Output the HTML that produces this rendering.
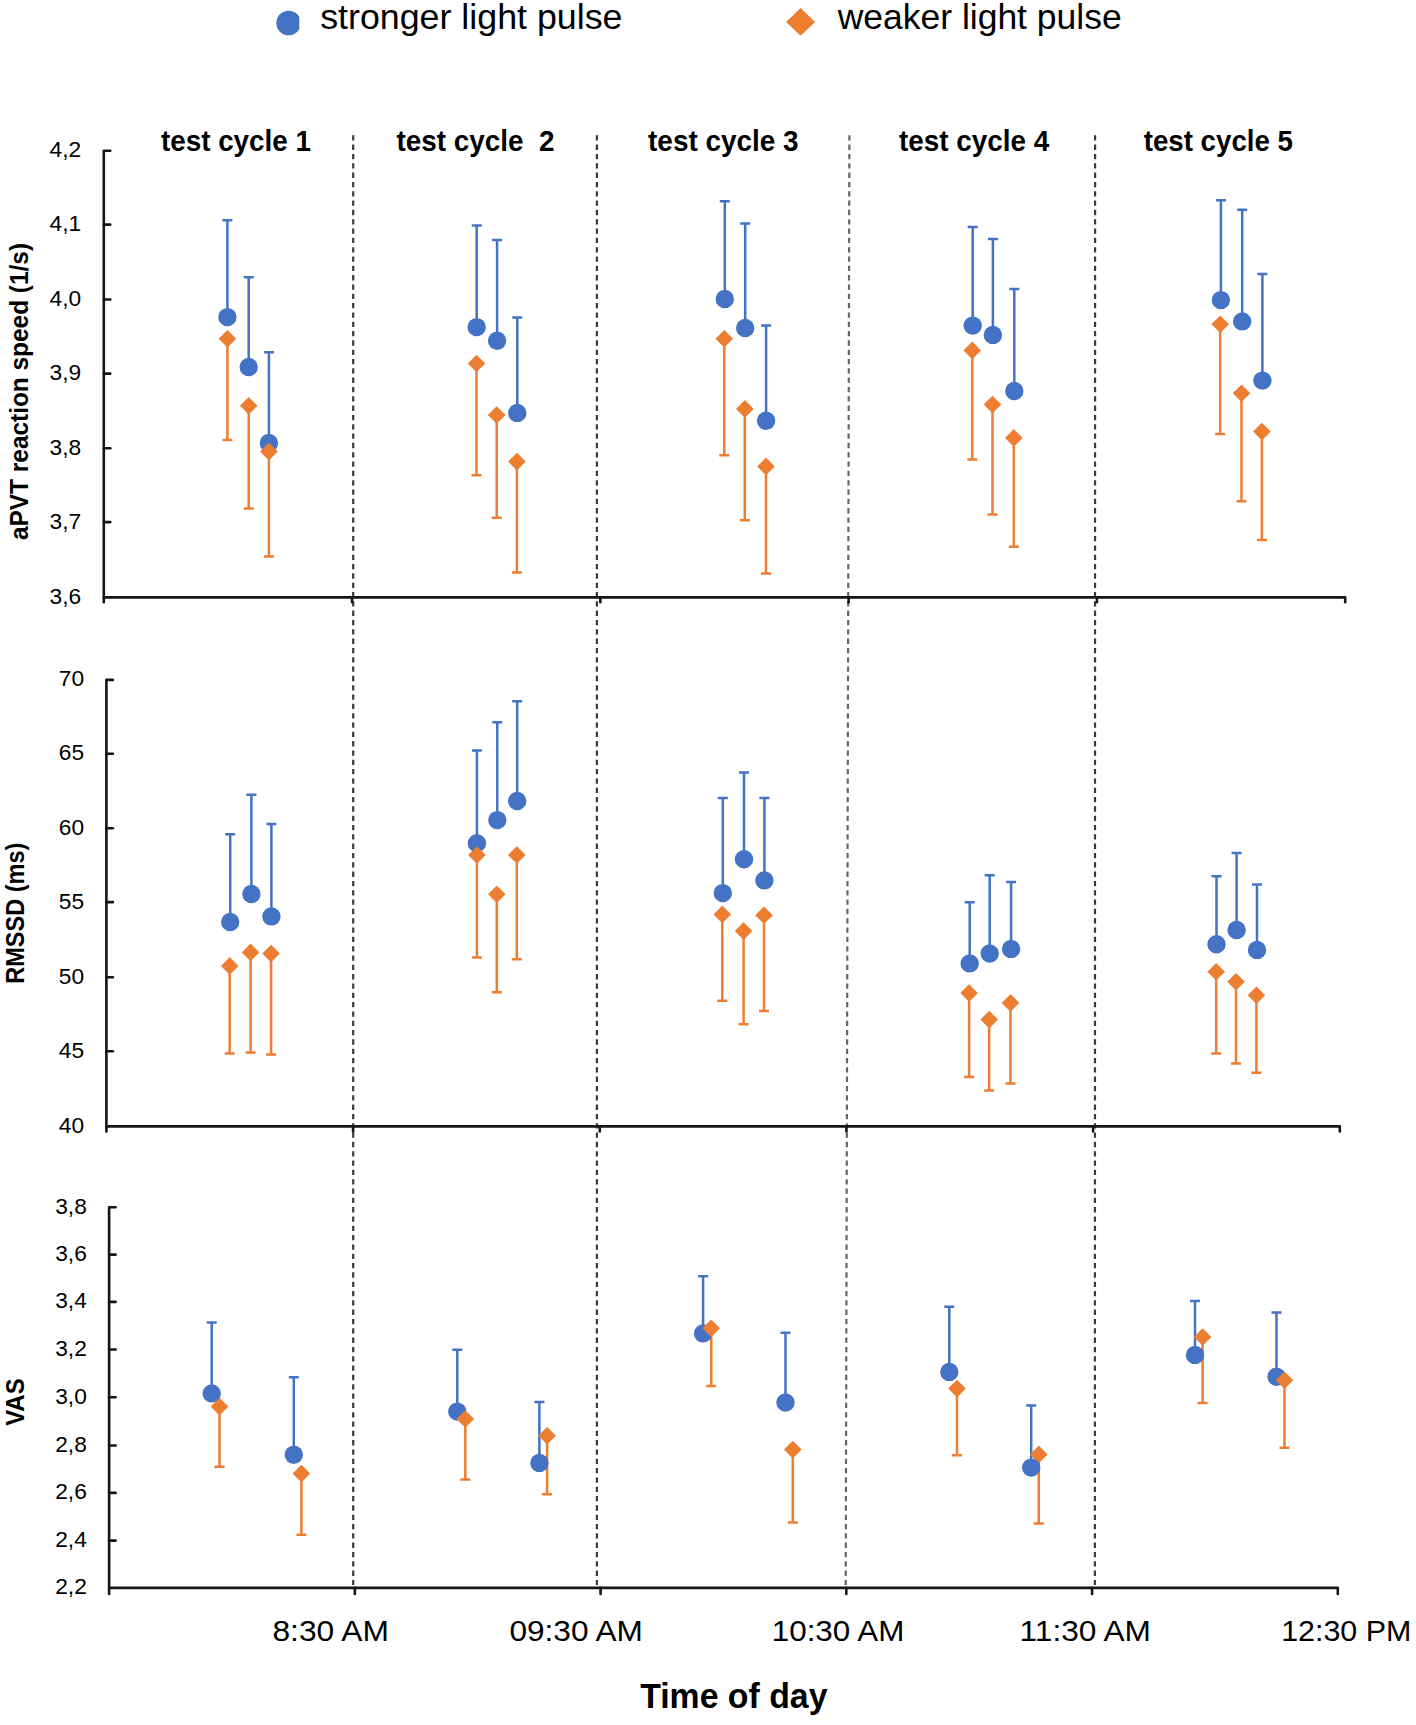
<!DOCTYPE html>
<html><head><meta charset="utf-8"><title>chart</title>
<style>
html,body{margin:0;padding:0;background:#fff;}
body{width:1416px;height:1725px;overflow:hidden;}
svg{display:block;}
text{font-family:"Liberation Sans", sans-serif;white-space:pre;}
</style></head><body>
<svg width="1416" height="1725" viewBox="0 0 1416 1725">
<rect width="1416" height="1725" fill="#fff"/>
<line x1="353.2" y1="135.3" x2="353.2" y2="1585" stroke="#3a3a3a" stroke-width="2.2" stroke-dasharray="5.3 4.02"/>
<line x1="596.9" y1="135.3" x2="596.9" y2="1585" stroke="#3a3a3a" stroke-width="2.2" stroke-dasharray="5.3 4.02"/>
<line x1="849.4" y1="135.3" x2="845.7" y2="1585" stroke="#666666" stroke-width="2.2" stroke-dasharray="5.3 4.02"/>
<line x1="1095.1" y1="135.3" x2="1094.9" y2="1585" stroke="#3a3a3a" stroke-width="2.2" stroke-dasharray="5.3 4.02"/>
<path d="M110.3,150.8 H103.8 V602.2" fill="none" stroke="#161616" stroke-width="2.6" stroke-linejoin="round" stroke-linecap="round"/>
<line x1="103.8" y1="224.6" x2="110.3" y2="224.6" stroke="#161616" stroke-width="2.6" stroke-linecap="round"/>
<line x1="103.8" y1="299.5" x2="110.3" y2="299.5" stroke="#161616" stroke-width="2.6" stroke-linecap="round"/>
<line x1="103.8" y1="373.6" x2="110.3" y2="373.6" stroke="#161616" stroke-width="2.6" stroke-linecap="round"/>
<line x1="103.8" y1="448.2" x2="110.3" y2="448.2" stroke="#161616" stroke-width="2.6" stroke-linecap="round"/>
<line x1="103.8" y1="522.1" x2="110.3" y2="522.1" stroke="#161616" stroke-width="2.6" stroke-linecap="round"/>
<path d="M103.8,597.4 H1345.2 V602.2" fill="none" stroke="#161616" stroke-width="2.6" stroke-linejoin="round" stroke-linecap="round"/>
<line x1="352.08" y1="597.4" x2="352.08" y2="602.2" stroke="#161616" stroke-width="2.6" stroke-linecap="round"/>
<line x1="600.36" y1="597.4" x2="600.36" y2="602.2" stroke="#161616" stroke-width="2.6" stroke-linecap="round"/>
<line x1="848.64" y1="597.4" x2="848.64" y2="602.2" stroke="#161616" stroke-width="2.6" stroke-linecap="round"/>
<line x1="1096.92" y1="597.4" x2="1096.92" y2="602.2" stroke="#161616" stroke-width="2.6" stroke-linecap="round"/>
<text transform="translate(49.52,157.22) scale(1.0200,1)" x="0" y="0" font-size="22.3">4,2</text>
<text transform="translate(49.52,231.02) scale(1.0200,1)" x="0" y="0" font-size="22.3">4,1</text>
<text transform="translate(49.52,305.92) scale(1.0200,1)" x="0" y="0" font-size="22.3">4,0</text>
<text transform="translate(49.52,380.02) scale(1.0200,1)" x="0" y="0" font-size="22.3">3,9</text>
<text transform="translate(49.52,454.62) scale(1.0200,1)" x="0" y="0" font-size="22.3">3,8</text>
<text transform="translate(49.52,528.52) scale(1.0200,1)" x="0" y="0" font-size="22.3">3,7</text>
<text transform="translate(49.52,603.82) scale(1.0200,1)" x="0" y="0" font-size="22.3">3,6</text>
<path d="M112.9,679.9 H106.4 V1131.4" fill="none" stroke="#161616" stroke-width="2.6" stroke-linejoin="round" stroke-linecap="round"/>
<line x1="106.4" y1="753.8" x2="112.9" y2="753.8" stroke="#161616" stroke-width="2.6" stroke-linecap="round"/>
<line x1="106.4" y1="828.2" x2="112.9" y2="828.2" stroke="#161616" stroke-width="2.6" stroke-linecap="round"/>
<line x1="106.4" y1="902.1" x2="112.9" y2="902.1" stroke="#161616" stroke-width="2.6" stroke-linecap="round"/>
<line x1="106.4" y1="977.3" x2="112.9" y2="977.3" stroke="#161616" stroke-width="2.6" stroke-linecap="round"/>
<line x1="106.4" y1="1051.3" x2="112.9" y2="1051.3" stroke="#161616" stroke-width="2.6" stroke-linecap="round"/>
<path d="M106.4,1126.4 H1339.8 V1131.4" fill="none" stroke="#161616" stroke-width="2.6" stroke-linejoin="round" stroke-linecap="round"/>
<line x1="353.08" y1="1126.4" x2="353.08" y2="1131.4" stroke="#161616" stroke-width="2.6" stroke-linecap="round"/>
<line x1="599.76" y1="1126.4" x2="599.76" y2="1131.4" stroke="#161616" stroke-width="2.6" stroke-linecap="round"/>
<line x1="846.44" y1="1126.4" x2="846.44" y2="1131.4" stroke="#161616" stroke-width="2.6" stroke-linecap="round"/>
<line x1="1093.12" y1="1126.4" x2="1093.12" y2="1131.4" stroke="#161616" stroke-width="2.6" stroke-linecap="round"/>
<text transform="translate(58.79,686.32) scale(1.0200,1)" x="0" y="0" font-size="22.3">70</text>
<text transform="translate(58.79,760.22) scale(1.0200,1)" x="0" y="0" font-size="22.3">65</text>
<text transform="translate(58.79,834.62) scale(1.0200,1)" x="0" y="0" font-size="22.3">60</text>
<text transform="translate(58.79,908.52) scale(1.0200,1)" x="0" y="0" font-size="22.3">55</text>
<text transform="translate(58.79,983.72) scale(1.0200,1)" x="0" y="0" font-size="22.3">50</text>
<text transform="translate(58.79,1057.72) scale(1.0200,1)" x="0" y="0" font-size="22.3">45</text>
<text transform="translate(58.79,1132.82) scale(1.0200,1)" x="0" y="0" font-size="22.3">40</text>
<path d="M115.6,1207.3 H109.1 V1593.9" fill="none" stroke="#161616" stroke-width="2.6" stroke-linejoin="round" stroke-linecap="round"/>
<line x1="109.1" y1="1254.6" x2="115.6" y2="1254.6" stroke="#161616" stroke-width="2.6" stroke-linecap="round"/>
<line x1="109.1" y1="1301.9" x2="115.6" y2="1301.9" stroke="#161616" stroke-width="2.6" stroke-linecap="round"/>
<line x1="109.1" y1="1349.5" x2="115.6" y2="1349.5" stroke="#161616" stroke-width="2.6" stroke-linecap="round"/>
<line x1="109.1" y1="1397.2" x2="115.6" y2="1397.2" stroke="#161616" stroke-width="2.6" stroke-linecap="round"/>
<line x1="109.1" y1="1445.5" x2="115.6" y2="1445.5" stroke="#161616" stroke-width="2.6" stroke-linecap="round"/>
<line x1="109.1" y1="1492.9" x2="115.6" y2="1492.9" stroke="#161616" stroke-width="2.6" stroke-linecap="round"/>
<line x1="109.1" y1="1540.6" x2="115.6" y2="1540.6" stroke="#161616" stroke-width="2.6" stroke-linecap="round"/>
<path d="M109.1,1587.9 H1337.8 V1593.9" fill="none" stroke="#161616" stroke-width="2.6" stroke-linejoin="round" stroke-linecap="round"/>
<line x1="354.84" y1="1587.9" x2="354.84" y2="1593.9" stroke="#161616" stroke-width="2.6" stroke-linecap="round"/>
<line x1="600.58" y1="1587.9" x2="600.58" y2="1593.9" stroke="#161616" stroke-width="2.6" stroke-linecap="round"/>
<line x1="846.32" y1="1587.9" x2="846.32" y2="1593.9" stroke="#161616" stroke-width="2.6" stroke-linecap="round"/>
<line x1="1092.06" y1="1587.9" x2="1092.06" y2="1593.9" stroke="#161616" stroke-width="2.6" stroke-linecap="round"/>
<text transform="translate(55.17,1213.72) scale(1.0200,1)" x="0" y="0" font-size="22.3">3,8</text>
<text transform="translate(55.17,1261.02) scale(1.0200,1)" x="0" y="0" font-size="22.3">3,6</text>
<text transform="translate(55.17,1308.32) scale(1.0200,1)" x="0" y="0" font-size="22.3">3,4</text>
<text transform="translate(55.17,1355.92) scale(1.0200,1)" x="0" y="0" font-size="22.3">3,2</text>
<text transform="translate(55.17,1403.62) scale(1.0200,1)" x="0" y="0" font-size="22.3">3,0</text>
<text transform="translate(55.17,1451.92) scale(1.0200,1)" x="0" y="0" font-size="22.3">2,8</text>
<text transform="translate(55.17,1499.32) scale(1.0200,1)" x="0" y="0" font-size="22.3">2,6</text>
<text transform="translate(55.17,1547.02) scale(1.0200,1)" x="0" y="0" font-size="22.3">2,4</text>
<text transform="translate(55.17,1594.32) scale(1.0200,1)" x="0" y="0" font-size="22.3">2,2</text>
<path d="M227.4,317.1 V220.2 M222.4,220.2 H232.4" stroke="#4472C4" stroke-width="2.5" fill="none"/>
<path d="M227.4,338.7 V440 M222.4,440 H232.4" stroke="#ED7D31" stroke-width="2.5" fill="none"/>
<path d="M248.7,367 V277.2 M243.7,277.2 H253.7" stroke="#4472C4" stroke-width="2.5" fill="none"/>
<path d="M248.7,405.7 V508.4 M243.7,508.4 H253.7" stroke="#ED7D31" stroke-width="2.5" fill="none"/>
<path d="M268.9,443 V352.3 M263.9,352.3 H273.9" stroke="#4472C4" stroke-width="2.5" fill="none"/>
<path d="M268.9,451.6 V556.6 M263.9,556.6 H273.9" stroke="#ED7D31" stroke-width="2.5" fill="none"/>
<path d="M476.7,327.1 V225.5 M471.7,225.5 H481.7" stroke="#4472C4" stroke-width="2.5" fill="none"/>
<path d="M476.5,363.5 V475.2 M471.5,475.2 H481.5" stroke="#ED7D31" stroke-width="2.5" fill="none"/>
<path d="M497.1,340.8 V240.1 M492.1,240.1 H502.1" stroke="#4472C4" stroke-width="2.5" fill="none"/>
<path d="M496.7,415 V517.7 M491.7,517.7 H501.7" stroke="#ED7D31" stroke-width="2.5" fill="none"/>
<path d="M517.3,412.9 V317.6 M512.3,317.6 H522.3" stroke="#4472C4" stroke-width="2.5" fill="none"/>
<path d="M516.9,461.6 V572.6 M511.9,572.6 H521.9" stroke="#ED7D31" stroke-width="2.5" fill="none"/>
<path d="M724.8,299 V201.3 M719.8,201.3 H729.8" stroke="#4472C4" stroke-width="2.5" fill="none"/>
<path d="M724.3,338.8 V455.2 M719.3,455.2 H729.3" stroke="#ED7D31" stroke-width="2.5" fill="none"/>
<path d="M745.2,328 V223.4 M740.2,223.4 H750.2" stroke="#4472C4" stroke-width="2.5" fill="none"/>
<path d="M744.8,408.9 V520.2 M739.8,520.2 H749.8" stroke="#ED7D31" stroke-width="2.5" fill="none"/>
<path d="M766.1,420.7 V325.6 M761.1,325.6 H771.1" stroke="#4472C4" stroke-width="2.5" fill="none"/>
<path d="M766,466.4 V573.5 M761,573.5 H771" stroke="#ED7D31" stroke-width="2.5" fill="none"/>
<path d="M972.7,325.6 V227.1 M967.7,227.1 H977.7" stroke="#4472C4" stroke-width="2.5" fill="none"/>
<path d="M972.3,350.4 V459.4 M967.3,459.4 H977.3" stroke="#ED7D31" stroke-width="2.5" fill="none"/>
<path d="M992.9,334.9 V239.1 M987.9,239.1 H997.9" stroke="#4472C4" stroke-width="2.5" fill="none"/>
<path d="M992.5,404.5 V514.4 M987.5,514.4 H997.5" stroke="#ED7D31" stroke-width="2.5" fill="none"/>
<path d="M1014.3,391 V289 M1009.3,289 H1019.3" stroke="#4472C4" stroke-width="2.5" fill="none"/>
<path d="M1013.8,437.9 V546.8 M1008.8,546.8 H1018.8" stroke="#ED7D31" stroke-width="2.5" fill="none"/>
<path d="M1220.9,300.1 V200.2 M1215.9,200.2 H1225.9" stroke="#4472C4" stroke-width="2.5" fill="none"/>
<path d="M1220.2,324.2 V433.9 M1215.2,433.9 H1225.2" stroke="#ED7D31" stroke-width="2.5" fill="none"/>
<path d="M1242.2,321.4 V209.7 M1237.2,209.7 H1247.2" stroke="#4472C4" stroke-width="2.5" fill="none"/>
<path d="M1241.5,393.3 V501.2 M1236.5,501.2 H1246.5" stroke="#ED7D31" stroke-width="2.5" fill="none"/>
<path d="M1262.4,380.6 V273.9 M1257.4,273.9 H1267.4" stroke="#4472C4" stroke-width="2.5" fill="none"/>
<path d="M1261.9,431.6 V540.1 M1256.9,540.1 H1266.9" stroke="#ED7D31" stroke-width="2.5" fill="none"/>
<circle cx="227.4" cy="317.1" r="9.2" fill="#4472C4"/>
<circle cx="248.7" cy="367" r="9.2" fill="#4472C4"/>
<circle cx="268.9" cy="443" r="9.2" fill="#4472C4"/>
<circle cx="476.7" cy="327.1" r="9.2" fill="#4472C4"/>
<circle cx="497.1" cy="340.8" r="9.2" fill="#4472C4"/>
<circle cx="517.3" cy="412.9" r="9.2" fill="#4472C4"/>
<circle cx="724.8" cy="299" r="9.2" fill="#4472C4"/>
<circle cx="745.2" cy="328" r="9.2" fill="#4472C4"/>
<circle cx="766.1" cy="420.7" r="9.2" fill="#4472C4"/>
<circle cx="972.7" cy="325.6" r="9.2" fill="#4472C4"/>
<circle cx="992.9" cy="334.9" r="9.2" fill="#4472C4"/>
<circle cx="1014.3" cy="391" r="9.2" fill="#4472C4"/>
<circle cx="1220.9" cy="300.1" r="9.2" fill="#4472C4"/>
<circle cx="1242.2" cy="321.4" r="9.2" fill="#4472C4"/>
<circle cx="1262.4" cy="380.6" r="9.2" fill="#4472C4"/>
<path d="M227.4,329.9 L236.2,338.7 L227.4,347.5 L218.6,338.7 Z" fill="#ED7D31"/>
<path d="M248.7,396.9 L257.5,405.7 L248.7,414.5 L239.9,405.7 Z" fill="#ED7D31"/>
<path d="M268.9,442.8 L277.7,451.6 L268.9,460.4 L260.1,451.6 Z" fill="#ED7D31"/>
<path d="M476.5,354.7 L485.3,363.5 L476.5,372.3 L467.7,363.5 Z" fill="#ED7D31"/>
<path d="M496.7,406.2 L505.5,415 L496.7,423.8 L487.9,415 Z" fill="#ED7D31"/>
<path d="M516.9,452.8 L525.7,461.6 L516.9,470.4 L508.1,461.6 Z" fill="#ED7D31"/>
<path d="M724.3,330 L733.1,338.8 L724.3,347.6 L715.5,338.8 Z" fill="#ED7D31"/>
<path d="M744.8,400.1 L753.6,408.9 L744.8,417.7 L736,408.9 Z" fill="#ED7D31"/>
<path d="M766,457.6 L774.8,466.4 L766,475.2 L757.2,466.4 Z" fill="#ED7D31"/>
<path d="M972.3,341.6 L981.1,350.4 L972.3,359.2 L963.5,350.4 Z" fill="#ED7D31"/>
<path d="M992.5,395.7 L1001.3,404.5 L992.5,413.3 L983.7,404.5 Z" fill="#ED7D31"/>
<path d="M1013.8,429.1 L1022.6,437.9 L1013.8,446.7 L1005,437.9 Z" fill="#ED7D31"/>
<path d="M1220.2,315.4 L1229,324.2 L1220.2,333 L1211.4,324.2 Z" fill="#ED7D31"/>
<path d="M1241.5,384.5 L1250.3,393.3 L1241.5,402.1 L1232.7,393.3 Z" fill="#ED7D31"/>
<path d="M1261.9,422.8 L1270.7,431.6 L1261.9,440.4 L1253.1,431.6 Z" fill="#ED7D31"/>
<path d="M230.2,922 V834.2 M225.2,834.2 H235.2" stroke="#4472C4" stroke-width="2.5" fill="none"/>
<path d="M229.7,965.9 V1053.5 M224.7,1053.5 H234.7" stroke="#ED7D31" stroke-width="2.5" fill="none"/>
<path d="M251.4,894 V794.7 M246.4,794.7 H256.4" stroke="#4472C4" stroke-width="2.5" fill="none"/>
<path d="M250.6,952.4 V1052.6 M245.6,1052.6 H255.6" stroke="#ED7D31" stroke-width="2.5" fill="none"/>
<path d="M271.4,916.4 V824 M266.4,824 H276.4" stroke="#4472C4" stroke-width="2.5" fill="none"/>
<path d="M271.1,953.5 V1054.4 M266.1,1054.4 H276.1" stroke="#ED7D31" stroke-width="2.5" fill="none"/>
<path d="M476.9,843.3 V750.5 M471.9,750.5 H481.9" stroke="#4472C4" stroke-width="2.5" fill="none"/>
<path d="M476.9,855 V957.4 M471.9,957.4 H481.9" stroke="#ED7D31" stroke-width="2.5" fill="none"/>
<path d="M497.3,820.1 V722.3 M492.3,722.3 H502.3" stroke="#4472C4" stroke-width="2.5" fill="none"/>
<path d="M496.8,894.3 V992.2 M491.8,992.2 H501.8" stroke="#ED7D31" stroke-width="2.5" fill="none"/>
<path d="M517.2,801 V701.3 M512.2,701.3 H522.2" stroke="#4472C4" stroke-width="2.5" fill="none"/>
<path d="M516.8,855 V959.2 M511.8,959.2 H521.8" stroke="#ED7D31" stroke-width="2.5" fill="none"/>
<path d="M722.8,893.1 V798.1 M717.8,798.1 H727.8" stroke="#4472C4" stroke-width="2.5" fill="none"/>
<path d="M722.3,914.4 V1000.7 M717.3,1000.7 H727.3" stroke="#ED7D31" stroke-width="2.5" fill="none"/>
<path d="M744,859.3 V772.5 M739,772.5 H749" stroke="#4472C4" stroke-width="2.5" fill="none"/>
<path d="M743.6,931.1 V1024.2 M738.6,1024.2 H748.6" stroke="#ED7D31" stroke-width="2.5" fill="none"/>
<path d="M764.4,880.4 V798.1 M759.4,798.1 H769.4" stroke="#4472C4" stroke-width="2.5" fill="none"/>
<path d="M764,915.3 V1010.9 M759,1010.9 H769" stroke="#ED7D31" stroke-width="2.5" fill="none"/>
<path d="M969.7,963.4 V902.2 M964.7,902.2 H974.7" stroke="#4472C4" stroke-width="2.5" fill="none"/>
<path d="M969.1,993.1 V1077.1 M964.1,1077.1 H974.1" stroke="#ED7D31" stroke-width="2.5" fill="none"/>
<path d="M989.7,953.5 V875.3 M984.7,875.3 H994.7" stroke="#4472C4" stroke-width="2.5" fill="none"/>
<path d="M989.2,1019.6 V1090.5 M984.2,1090.5 H994.2" stroke="#ED7D31" stroke-width="2.5" fill="none"/>
<path d="M1011.1,948.9 V882.1 M1006.1,882.1 H1016.1" stroke="#4472C4" stroke-width="2.5" fill="none"/>
<path d="M1010.5,1002.9 V1083.4 M1005.5,1083.4 H1015.5" stroke="#ED7D31" stroke-width="2.5" fill="none"/>
<path d="M1216.5,944.3 V876.2 M1211.5,876.2 H1221.5" stroke="#4472C4" stroke-width="2.5" fill="none"/>
<path d="M1216.2,971.8 V1053.4 M1211.2,1053.4 H1221.2" stroke="#ED7D31" stroke-width="2.5" fill="none"/>
<path d="M1236.6,930 V853 M1231.6,853 H1241.6" stroke="#4472C4" stroke-width="2.5" fill="none"/>
<path d="M1236,981.8 V1063.4 M1231,1063.4 H1241" stroke="#ED7D31" stroke-width="2.5" fill="none"/>
<path d="M1257,949.9 V884.6 M1252,884.6 H1262" stroke="#4472C4" stroke-width="2.5" fill="none"/>
<path d="M1256.4,995.3 V1072.7 M1251.4,1072.7 H1261.4" stroke="#ED7D31" stroke-width="2.5" fill="none"/>
<circle cx="230.2" cy="922" r="9.2" fill="#4472C4"/>
<circle cx="251.4" cy="894" r="9.2" fill="#4472C4"/>
<circle cx="271.4" cy="916.4" r="9.2" fill="#4472C4"/>
<circle cx="476.9" cy="843.3" r="9.2" fill="#4472C4"/>
<circle cx="497.3" cy="820.1" r="9.2" fill="#4472C4"/>
<circle cx="517.2" cy="801" r="9.2" fill="#4472C4"/>
<circle cx="722.8" cy="893.1" r="9.2" fill="#4472C4"/>
<circle cx="744" cy="859.3" r="9.2" fill="#4472C4"/>
<circle cx="764.4" cy="880.4" r="9.2" fill="#4472C4"/>
<circle cx="969.7" cy="963.4" r="9.2" fill="#4472C4"/>
<circle cx="989.7" cy="953.5" r="9.2" fill="#4472C4"/>
<circle cx="1011.1" cy="948.9" r="9.2" fill="#4472C4"/>
<circle cx="1216.5" cy="944.3" r="9.2" fill="#4472C4"/>
<circle cx="1236.6" cy="930" r="9.2" fill="#4472C4"/>
<circle cx="1257" cy="949.9" r="9.2" fill="#4472C4"/>
<path d="M229.7,957.1 L238.5,965.9 L229.7,974.7 L220.9,965.9 Z" fill="#ED7D31"/>
<path d="M250.6,943.6 L259.4,952.4 L250.6,961.2 L241.8,952.4 Z" fill="#ED7D31"/>
<path d="M271.1,944.7 L279.9,953.5 L271.1,962.3 L262.3,953.5 Z" fill="#ED7D31"/>
<path d="M476.9,846.2 L485.7,855 L476.9,863.8 L468.1,855 Z" fill="#ED7D31"/>
<path d="M496.8,885.5 L505.6,894.3 L496.8,903.1 L488,894.3 Z" fill="#ED7D31"/>
<path d="M516.8,846.2 L525.6,855 L516.8,863.8 L508,855 Z" fill="#ED7D31"/>
<path d="M722.3,905.6 L731.1,914.4 L722.3,923.2 L713.5,914.4 Z" fill="#ED7D31"/>
<path d="M743.6,922.3 L752.4,931.1 L743.6,939.9 L734.8,931.1 Z" fill="#ED7D31"/>
<path d="M764,906.5 L772.8,915.3 L764,924.1 L755.2,915.3 Z" fill="#ED7D31"/>
<path d="M969.1,984.3 L977.9,993.1 L969.1,1001.9 L960.3,993.1 Z" fill="#ED7D31"/>
<path d="M989.2,1010.8 L998,1019.6 L989.2,1028.4 L980.4,1019.6 Z" fill="#ED7D31"/>
<path d="M1010.5,994.1 L1019.3,1002.9 L1010.5,1011.7 L1001.7,1002.9 Z" fill="#ED7D31"/>
<path d="M1216.2,963 L1225,971.8 L1216.2,980.6 L1207.4,971.8 Z" fill="#ED7D31"/>
<path d="M1236,973 L1244.8,981.8 L1236,990.6 L1227.2,981.8 Z" fill="#ED7D31"/>
<path d="M1256.4,986.5 L1265.2,995.3 L1256.4,1004.1 L1247.6,995.3 Z" fill="#ED7D31"/>
<path d="M211.7,1393.4 V1322.6 M206.7,1322.6 H216.7" stroke="#4472C4" stroke-width="2.5" fill="none"/>
<path d="M219.5,1406.6 V1466.8 M214.5,1466.8 H224.5" stroke="#ED7D31" stroke-width="2.5" fill="none"/>
<path d="M293.8,1454.8 V1377.2 M288.8,1377.2 H298.8" stroke="#4472C4" stroke-width="2.5" fill="none"/>
<path d="M301.4,1473.6 V1534.7 M296.4,1534.7 H306.4" stroke="#ED7D31" stroke-width="2.5" fill="none"/>
<path d="M457.3,1411.6 V1349.8 M452.3,1349.8 H462.3" stroke="#4472C4" stroke-width="2.5" fill="none"/>
<path d="M465.3,1419 V1479.4 M460.3,1479.4 H470.3" stroke="#ED7D31" stroke-width="2.5" fill="none"/>
<path d="M539.4,1462.9 V1402 M534.4,1402 H544.4" stroke="#4472C4" stroke-width="2.5" fill="none"/>
<path d="M547.1,1435.7 V1494.2 M542.1,1494.2 H552.1" stroke="#ED7D31" stroke-width="2.5" fill="none"/>
<path d="M703.1,1333.4 V1276.2 M698.1,1276.2 H708.1" stroke="#4472C4" stroke-width="2.5" fill="none"/>
<path d="M711.2,1328.2 V1386.1 M706.2,1386.1 H716.2" stroke="#ED7D31" stroke-width="2.5" fill="none"/>
<path d="M785.5,1402.5 V1332.7 M780.5,1332.7 H790.5" stroke="#4472C4" stroke-width="2.5" fill="none"/>
<path d="M792.8,1449.6 V1522.5 M787.8,1522.5 H797.8" stroke="#ED7D31" stroke-width="2.5" fill="none"/>
<path d="M949.3,1371.9 V1306.7 M944.3,1306.7 H954.3" stroke="#4472C4" stroke-width="2.5" fill="none"/>
<path d="M957,1388.6 V1455.2 M952,1455.2 H962" stroke="#ED7D31" stroke-width="2.5" fill="none"/>
<path d="M1031.2,1467.6 V1405.5 M1026.2,1405.5 H1036.2" stroke="#4472C4" stroke-width="2.5" fill="none"/>
<path d="M1038.8,1454.4 V1523.6 M1033.8,1523.6 H1043.8" stroke="#ED7D31" stroke-width="2.5" fill="none"/>
<path d="M1195,1354.9 V1300.9 M1190,1300.9 H1200" stroke="#4472C4" stroke-width="2.5" fill="none"/>
<path d="M1202.6,1337 V1403 M1197.6,1403 H1207.6" stroke="#ED7D31" stroke-width="2.5" fill="none"/>
<path d="M1276.5,1376.7 V1312.5 M1271.5,1312.5 H1281.5" stroke="#4472C4" stroke-width="2.5" fill="none"/>
<path d="M1284.5,1380.2 V1447.7 M1279.5,1447.7 H1289.5" stroke="#ED7D31" stroke-width="2.5" fill="none"/>
<circle cx="211.7" cy="1393.4" r="9.2" fill="#4472C4"/>
<circle cx="293.8" cy="1454.8" r="9.2" fill="#4472C4"/>
<circle cx="457.3" cy="1411.6" r="9.2" fill="#4472C4"/>
<circle cx="539.4" cy="1462.9" r="9.2" fill="#4472C4"/>
<circle cx="703.1" cy="1333.4" r="9.2" fill="#4472C4"/>
<circle cx="785.5" cy="1402.5" r="9.2" fill="#4472C4"/>
<circle cx="949.3" cy="1371.9" r="9.2" fill="#4472C4"/>
<circle cx="1195" cy="1354.9" r="9.2" fill="#4472C4"/>
<circle cx="1276.5" cy="1376.7" r="9.2" fill="#4472C4"/>
<path d="M219.5,1397.8 L228.3,1406.6 L219.5,1415.4 L210.7,1406.6 Z" fill="#ED7D31"/>
<path d="M301.4,1464.8 L310.2,1473.6 L301.4,1482.4 L292.6,1473.6 Z" fill="#ED7D31"/>
<path d="M465.3,1410.2 L474.1,1419 L465.3,1427.8 L456.5,1419 Z" fill="#ED7D31"/>
<path d="M547.1,1426.9 L555.9,1435.7 L547.1,1444.5 L538.3,1435.7 Z" fill="#ED7D31"/>
<path d="M711.2,1319.4 L720,1328.2 L711.2,1337 L702.4,1328.2 Z" fill="#ED7D31"/>
<path d="M792.8,1440.8 L801.6,1449.6 L792.8,1458.4 L784,1449.6 Z" fill="#ED7D31"/>
<path d="M957,1379.8 L965.8,1388.6 L957,1397.4 L948.2,1388.6 Z" fill="#ED7D31"/>
<path d="M1038.8,1445.6 L1047.6,1454.4 L1038.8,1463.2 L1030,1454.4 Z" fill="#ED7D31"/>
<path d="M1202.6,1328.2 L1211.4,1337 L1202.6,1345.8 L1193.8,1337 Z" fill="#ED7D31"/>
<path d="M1284.5,1371.4 L1293.3,1380.2 L1284.5,1389 L1275.7,1380.2 Z" fill="#ED7D31"/>
<circle cx="1031.2" cy="1467.6" r="9.2" fill="#4472C4"/>
<clipPath id="lc"><rect x="270" y="0" width="29.3" height="50"/></clipPath><circle cx="288.6" cy="23" r="12.3" fill="#4472C4" clip-path="url(#lc)"/>
<path d="M800.6,8 L815.1,21.9 L800.6,35.8 L786.1,21.9 Z" fill="#ED7D31"/>
<text transform="translate(321.2,29) scale(1.0081,1)" x="-0.99" y="0" font-size="35.5" font-weight="normal" fill="#000" >stronger light pulse</text>
<text transform="translate(837.6,29) scale(0.9999,1)" x="0.05" y="0" font-size="35.5" font-weight="normal" fill="#000" >weaker light pulse</text>
<text transform="translate(161.3,150.6) scale(0.9273,1)" x="-0.37" y="0" font-size="30" font-weight="bold" fill="#000" xml:space="preserve">test cycle 1</text>
<text transform="translate(396.8,150.6) scale(0.9291,1)" x="-0.37" y="0" font-size="30" font-weight="bold" fill="#000" xml:space="preserve">test cycle  2</text>
<text transform="translate(648.4,150.6) scale(0.9306,1)" x="-0.37" y="0" font-size="30" font-weight="bold" fill="#000" xml:space="preserve">test cycle 3</text>
<text transform="translate(899.3,150.6) scale(0.9290,1)" x="-0.37" y="0" font-size="30" font-weight="bold" fill="#000" xml:space="preserve">test cycle 4</text>
<text transform="translate(1144,150.6) scale(0.9235,1)" x="-0.37" y="0" font-size="30" font-weight="bold" fill="#000" xml:space="preserve">test cycle 5</text>
<text transform="translate(273.8,1641.3) scale(1.0762,1)" x="-1.28" y="0" font-size="29.5" font-weight="normal" fill="#000" >8:30 AM</text>
<text transform="translate(510.7,1641.3) scale(1.0713,1)" x="-1.15" y="0" font-size="29.5" font-weight="normal" fill="#000" >09:30 AM</text>
<text transform="translate(774.1,1641.3) scale(1.0644,1)" x="-2.25" y="0" font-size="29.5" font-weight="normal" fill="#000" >10:30 AM</text>
<text transform="translate(1022,1641.3) scale(1.0732,1)" x="-2.25" y="0" font-size="29.5" font-weight="normal" fill="#000" >11:30 AM</text>
<text transform="translate(1283.5,1641.3) scale(1.0312,1)" x="-2.25" y="0" font-size="29.5" font-weight="normal" fill="#000" >12:30 PM</text>
<text transform="translate(640.5,1708.3) scale(0.9811,1)" x="-0.39" y="0" font-size="34.5" font-weight="bold" fill="#000" >Time of day</text>
<text transform="translate(27.6,539.3) rotate(-90) scale(0.9181,1)" x="-0.78" y="0" font-size="26.6" font-weight="bold" fill="#000">aPVT reaction speed (1/s)</text>
<text transform="translate(23.6,982.2) rotate(-90) scale(0.8876,1)" x="-1.77" y="0" font-size="26.5" font-weight="bold" fill="#000">RMSSD (ms)</text>
<text transform="translate(23.5,1425.7) rotate(-90) scale(0.9044,1)" x="-0.18" y="0" font-size="26.5" font-weight="bold" fill="#000">VAS</text>
</svg>
</body></html>
